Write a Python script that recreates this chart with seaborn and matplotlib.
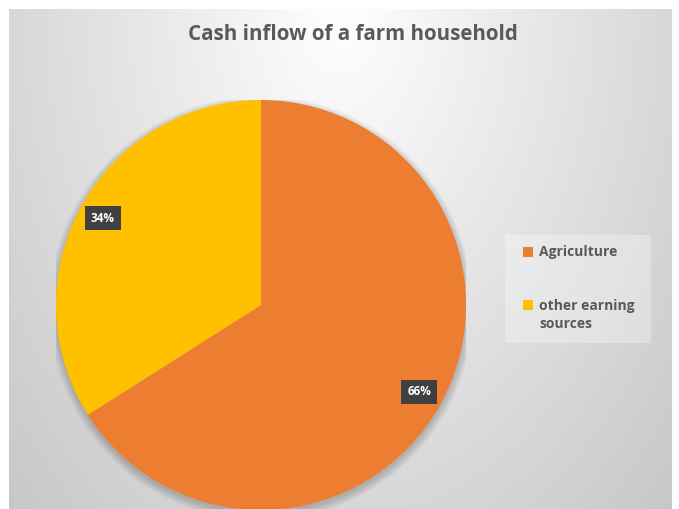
import numpy as np
import matplotlib
matplotlib.use("Agg")
import matplotlib.pyplot as plt
import seaborn as sns
from matplotlib.patches import Circle, Rectangle

categories = ["Agriculture", "other earning\nsources"]
values = [66, 34]
colors = ["#ED7D31", "#FFC000"]
title = "Cash inflow of a farm household"

sns.set_theme(style="white")
plt.rcParams["font.family"] = ["Open Sans", "DejaVu Sans"]

W, H = 679, 509
fig = plt.figure(figsize=(W / 100, H / 100), dpi=100, facecolor="white")


def fx(px):
    return px / W


def fy(py):
    return 1 - py / H


# background gradient (chart area)
bx0, bx1, by0, by1 = 9, 672, 9, 509
bg = fig.add_axes([bx0 / W, 0, (bx1 - bx0) / W, (by1 - by0) / H])
yy, xx = np.mgrid[0:(by1 - by0), 0:(bx1 - bx0)]
cx = (bx1 - bx0) / 2
d = np.sqrt(((xx - cx) / 331.0) ** 2 + (yy / 500.0) ** 2)
g = 1.0 - 0.155 * d
g = np.clip(g, 0, 1)
bg.imshow(np.dstack([g, g, g]), aspect="auto", interpolation="bilinear")
bg.set_axis_off()

# pie axes
pcx, pcy, r = 261, 305, 205
ax = fig.add_axes([(pcx - r) / W, (H - pcy - r) / H, 2 * r / W, 2 * r / H])

for i in range(10):
    ax.add_patch(Circle((0.0, -0.015), 1.0 + 0.004 * i, color="black",
                        alpha=0.02, lw=0, zorder=0))

wedges, texts, autotexts = ax.pie(
    values, colors=colors, startangle=90, counterclock=False,
    autopct="%1.0f%%", pctdistance=0.88, radius=1.0,
    wedgeprops=dict(linewidth=0),
    textprops=dict(color="white", fontsize=8.5, fontweight="bold"),
)
for w in wedges:
    w.set_zorder(2)
for t in autotexts:
    t.set_zorder(5)
    t.set_bbox(dict(boxstyle="square,pad=0.5", facecolor="#404040", edgecolor="none"))
ax.set_xlim(-1, 1)
ax.set_ylim(-1, 1)
ax.set_aspect("equal")
ax.set_axis_off()

fig.text(fx(353), fy(35), title, ha="center", va="center",
         fontsize=14.8, fontweight="bold", color="#595959")

# legend
fig.patches.append(Rectangle((fx(505), fy(343)), fx(651) - fx(505), fy(235) - fy(343),
                             transform=fig.transFigure, facecolor="white",
                             alpha=0.3, edgecolor="none", zorder=3))
leg_y = [252, 305]
for lab, col, yc in zip(categories, colors, leg_y):
    fig.patches.append(Rectangle((fx(523), fy(yc + 5)), fx(10), 10 / H,
                                 transform=fig.transFigure, facecolor=col,
                                 edgecolor="none", zorder=4))
    n = lab.count("\n")
    fig.text(fx(539), fy(yc + n * 10), lab, ha="left", va="center",
             fontsize=10, fontweight="bold", color="#595959",
             linespacing=1.45, zorder=5)

fig.savefig("out.png", dpi=100, facecolor="white")
